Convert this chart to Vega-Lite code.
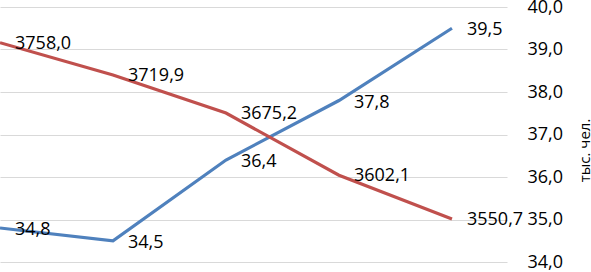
{
  "$schema": "https://vega.github.io/schema/vega-lite/v6.json",
  "width": 507,
  "height": 255,
  "autosize": {"type": "none"},
  "padding": {"left": 0, "top": 7, "right": 84, "bottom": 10},
  "config": {
    "locale": {"number": {"decimal": ",", "thousands": " ", "grouping": [3], "currency": ["", ""]}},
    "view": {"stroke": null},
    "font": "Open Sans"
  },
  "data": {
    "values": [
      {"i": 0, "pop": 3758.0, "val": 34.8},
      {"i": 1, "pop": 3719.9, "val": 34.5},
      {"i": 2, "pop": 3675.2, "val": 36.4},
      {"i": 3, "pop": 3602.1, "val": 37.8},
      {"i": 4, "pop": 3550.7, "val": 39.5}
    ]
  },
  "encoding": {
    "x": {"field": "i", "type": "quantitative", "scale": {"domain": [0, 4.487], "nice": false, "zero": false}, "axis": null}
  },
  "layer": [
    {
      "encoding": {
        "y": {"field": "val", "type": "quantitative", "scale": {"domain": [34, 40], "nice": false, "zero": false},
          "axis": {
            "orient": "right", "values": [34, 35, 36, 37, 38, 39, 40], "format": ".1f",
            "grid": true, "gridColor": "#D9D9D9", "gridWidth": 1,
            "domain": false, "ticks": false, "labelPadding": 20,
            "labelFont": "Open Sans", "labelFontSize": 18, "labelColor": "#000000",
            "title": "тыс. чел.", "titleFont": "Open Sans", "titleFontSize": 15, "titleFontWeight": "normal",
            "titleColor": "#000000", "titleAngle": -90, "titleAlign": "center", "titleBaseline": "alphabetic",
            "titleX": 82, "titleY": 143
          }
        }
      },
      "layer": [
        {"mark": {"type": "line", "color": "#4F81BD", "strokeWidth": 3.2}},
        {"mark": {"type": "text", "align": "left", "baseline": "middle", "dx": 15, "dy": 2, "font": "Open Sans", "fontSize": 18, "color": "#000000"},
          "encoding": {"text": {"field": "val", "type": "quantitative", "format": ".1f"}}}
      ]
    },
    {
      "encoding": {
        "y": {"field": "pop", "type": "quantitative", "scale": {"domain": [3500, 3800], "nice": false, "zero": false}, "axis": null}
      },
      "layer": [
        {"mark": {"type": "line", "color": "#C0504D", "strokeWidth": 3.2}},
        {"mark": {"type": "text", "align": "left", "baseline": "middle", "dx": 15, "dy": 1, "font": "Open Sans", "fontSize": 18, "color": "#000000"},
          "encoding": {"text": {"field": "pop", "type": "quantitative", "format": ".1f"}}}
      ]
    }
  ],
  "resolve": {"scale": {"y": "independent"}}
}
